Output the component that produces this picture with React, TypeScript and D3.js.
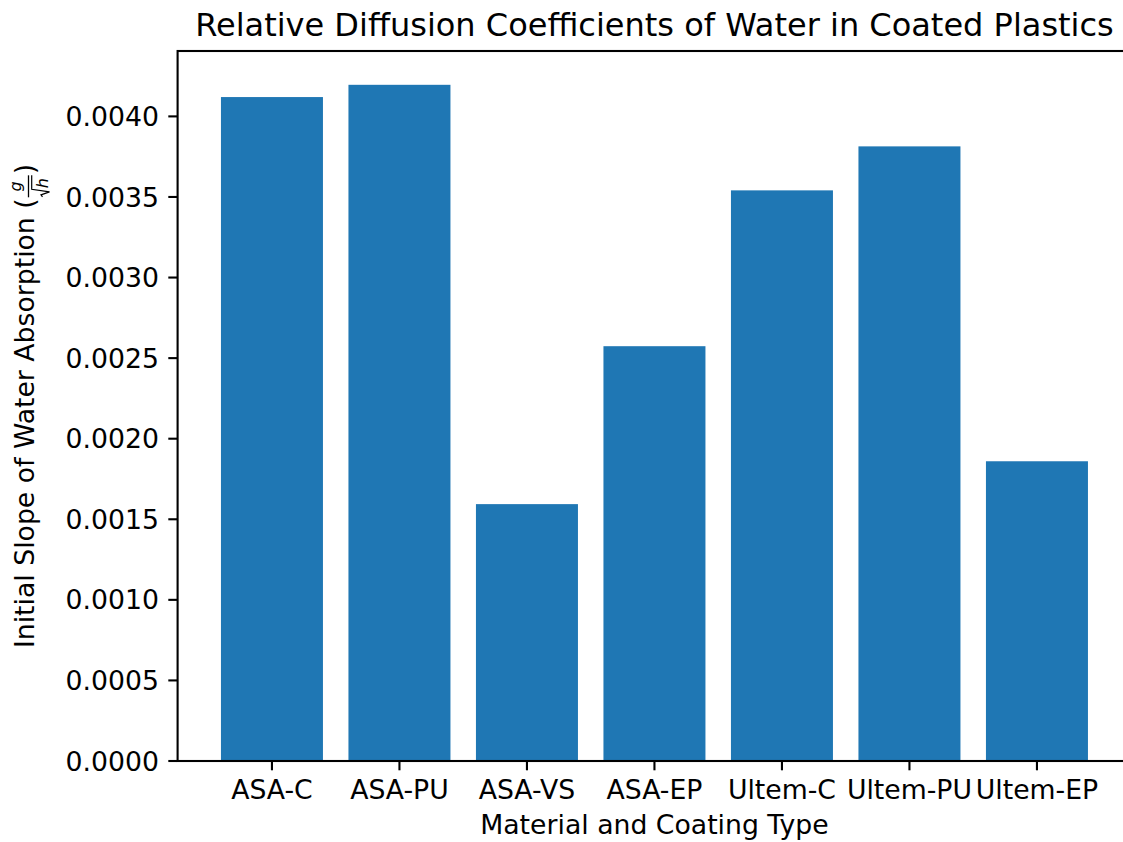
import React, { useEffect, useRef } from "react";
import * as d3 from "d3";

// Material/coating combinations and their initial water-absorption slopes (g/√h)
const categories: string[] = ["ASA-C", "ASA-PU", "ASA-VS", "ASA-EP", "Ultem-C", "Ultem-PU", "Ultem-EP"];
const slopes: number[] = [0.00412, 0.004196, 0.001594, 0.002574, 0.003541, 0.003814, 0.00186];
const yTicks: number[] = [0, 0.0005, 0.001, 0.0015, 0.002, 0.0025, 0.003, 0.0035, 0.004];

const title = "Relative Diffusion Coefficients of Water in Coated Plastics";
const xLabel = "Material and Coating Type";
const yLabelText = "Initial Slope of Water Absorption (";

const W = 1123;
const H = 842;
const FONT = "DejaVu Sans, Verdana, sans-serif";
const BLUE = "#1f77b4";

export default function App() {
  const ref = useRef<SVGSVGElement | null>(null);

  useEffect(() => {
    const svg = d3.select(ref.current);
    svg.selectAll("*").remove();

    const left = 177.6;
    const right = 1131.3;
    const top = 51;
    const bottom = 761;
    const barW = 0.8;
    const n = categories.length;
    const lo = -barW / 2;
    const hi = n - 1 + barW / 2;
    const m = (hi - lo) * 0.05;

    const x = d3.scaleLinear().domain([lo - m, hi + m]).range([left, right]);
    const yMax = (d3.max(slopes) as number) * 1.05;
    const y = d3.scaleLinear().domain([0, yMax]).range([bottom, top]);

    svg.append("rect").attr("width", W).attr("height", H).attr("fill", "#fff");

    // bars
    svg
      .append("g")
      .selectAll("rect")
      .data(slopes)
      .join("rect")
      .attr("x", (_, i) => x(i - barW / 2))
      .attr("width", (_, i) => x(i + barW / 2) - x(i - barW / 2))
      .attr("y", (d) => y(d))
      .attr("height", (d) => y(0) - y(d))
      .attr("fill", BLUE);

    const lw = 2.1;
    const tickLen = 9.3;

    // y ticks
    const yg = svg.append("g");
    yTicks.forEach((t) => {
      yg.append("line")
        .attr("x1", left - tickLen)
        .attr("x2", left)
        .attr("y1", y(t))
        .attr("y2", y(t))
        .attr("stroke", "#000")
        .attr("stroke-width", lw);
      yg.append("text")
        .attr("x", left - tickLen - 9.3)
        .attr("y", y(t) + 9.6)
        .attr("text-anchor", "end")
        .attr("font-family", FONT)
        .attr("font-size", 26.7)
        .attr("fill", "#000")
        .text(d3.format(".4f")(t));
    });

    // x ticks
    const xg = svg.append("g");
    categories.forEach((c, i) => {
      xg.append("line")
        .attr("x1", x(i))
        .attr("x2", x(i))
        .attr("y1", bottom)
        .attr("y2", bottom + tickLen)
        .attr("stroke", "#000")
        .attr("stroke-width", lw);
      xg.append("text")
        .attr("x", x(i))
        .attr("y", 799)
        .attr("text-anchor", "middle")
        .attr("font-family", FONT)
        .attr("font-size", 26.7)
        .attr("fill", "#000")
        .text(c);
    });

    // spines
    svg
      .append("rect")
      .attr("x", left)
      .attr("y", top)
      .attr("width", right - left)
      .attr("height", bottom - top)
      .attr("fill", "none")
      .attr("stroke", "#000")
      .attr("stroke-width", lw);

    // title
    svg
      .append("text")
      .attr("x", (left + right) / 2)
      .attr("y", 36)
      .attr("text-anchor", "middle")
      .attr("font-family", FONT)
      .attr("font-size", 32)
      .attr("fill", "#000")
      .text(title);

    // x label
    svg
      .append("text")
      .attr("x", (left + right) / 2)
      .attr("y", 834)
      .attr("text-anchor", "middle")
      .attr("font-family", FONT)
      .attr("font-size", 26.7)
      .attr("fill", "#000")
      .text(xLabel);

    // y label with g / sqrt(h) fraction, drawn in a rotated frame
    const yl = svg.append("g");
    const main = yl
      .append("text")
      .attr("x", 0)
      .attr("y", 0)
      .attr("font-family", FONT)
      .attr("font-size", 26.7)
      .attr("fill", "#000")
      .text(yLabelText);
    const mainW = (main.node() as SVGTextElement).getComputedTextLength();
    const fx = mainW + 1;
    const fw = 22;
    const fs = 16;
    yl.append("line")
      .attr("x1", fx)
      .attr("x2", fx + fw)
      .attr("y1", -5)
      .attr("y2", -5)
      .attr("stroke", "#000")
      .attr("stroke-width", 1.3);
    yl.append("text")
      .attr("x", fx + fw / 2)
      .attr("y", -13)
      .attr("text-anchor", "middle")
      .attr("font-family", FONT)
      .attr("font-style", "italic")
      .attr("font-size", fs)
      .attr("fill", "#000")
      .text("g");
    yl.append("path")
      .attr("d", `M${fx + 0.5},${9} L${fx + 2.5},${7.5} L${fx + 5.5},${16} L${fx + 8},${-1.8} L${fx + fw},${-1.8}`)
      .attr("fill", "none")
      .attr("stroke", "#000")
      .attr("stroke-width", 1.2);
    yl.append("text")
      .attr("x", fx + 9)
      .attr("y", 14.5)
      .attr("font-family", FONT)
      .attr("font-style", "italic")
      .attr("font-size", fs)
      .attr("fill", "#000")
      .text("h");
    const close = yl
      .append("text")
      .attr("x", fx + fw + 1)
      .attr("y", 0)
      .attr("font-family", FONT)
      .attr("font-size", 26.7)
      .attr("fill", "#000")
      .text(")");
    const totalW = fx + fw + 1 + (close.node() as SVGTextElement).getComputedTextLength();
    const cy = (top + bottom) / 2;
    yl.attr("transform", `translate(33.5,${cy + totalW / 2}) rotate(-90)`);
  }, []);

  return (
    <svg
      ref={ref}
      width={W}
      height={H}
      style={{ position: "absolute", left: 0, top: 0, display: "block" }}
    />
  );
}
